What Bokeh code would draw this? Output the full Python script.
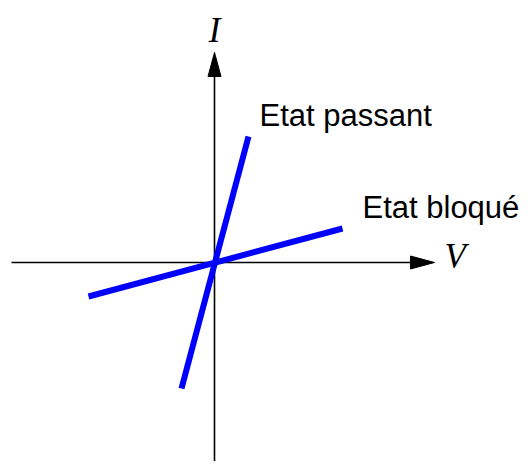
import numpy as np
from bokeh.plotting import figure
from bokeh.models import Range1d
from bokeh.core.properties import value
from bokeh.embed import file_html
from bokeh.resources import INLINE

# Characteristic lines (V, I) endpoints
passant_v = [-0.33, 0.34]
passant_i = [-1.26, 1.26]
bloque_v = [-1.26, 1.28]
bloque_i = [-0.34, 0.34]

labels = ["Etat passant", "Etat bloqué"]
label_v = [0.45, 1.48]
label_i = [1.36, 0.44]

axis_names = ["V", "I"]
v_axis = [-2.03, 2.20]   # horizontal axis extent
i_axis = [-2.20, 2.10]   # vertical axis extent

PX = 100.0  # pixels per unit
W, H = 522, 461
p = figure(width=W, height=H, output_backend="svg", toolbar_location=None,
           min_border=0, x_range=Range1d(-2.14, -2.14 + W / PX),
           y_range=Range1d(2.62 - H / PX, 2.62))
p.axis.visible = False
p.grid.visible = False
p.outline_line_color = None
p.background_fill_color = "white"

head_len = 24 / PX
head_half = 6.5 / PX
txt_shift = 11 / PX  # baseline correction

# Horizontal axis
p.line([v_axis[0], v_axis[1] - head_len], [0, 0], line_color="black", line_width=1.6)
p.patch([v_axis[1], v_axis[1] - head_len, v_axis[1] - head_len],
        [0, head_half, -head_half], fill_color="black", line_color="black")
# Vertical axis
p.line([0, 0], [i_axis[0], i_axis[1] - head_len], line_color="black", line_width=1.6)
p.patch([0, head_half, -head_half],
        [i_axis[1], i_axis[1] - head_len, i_axis[1] - head_len],
        fill_color="black", line_color="black")

# Characteristics
p.line(passant_v, passant_i, line_color="#0000ff", line_width=6, line_cap="butt")
p.line(bloque_v, bloque_i, line_color="#0000ff", line_width=6, line_cap="butt")

# Labels
p.text(x=label_v, y=[v + txt_shift for v in label_i], text=labels,
       text_font=value("Liberation Sans"),
       text_font_size="31px", text_color="black", text_baseline="alphabetic",
       text_align="left")
p.text(x=[v_axis[1] + 0.10], y=[-0.05 + txt_shift], text=[axis_names[0]],
       text_font=value("Liberation Serif"), text_font_style="italic",
       text_font_size="35px", text_color="black", text_baseline="alphabetic",
       text_align="left")
p.text(x=[0.0], y=[i_axis[1] + 0.11 + txt_shift], text=[axis_names[1]],
       text_font=value("Liberation Serif"), text_font_style="italic",
       text_font_size="35px", text_color="black", text_baseline="alphabetic",
       text_align="center")

open("out.html", "w").write(file_html(p, INLINE))
